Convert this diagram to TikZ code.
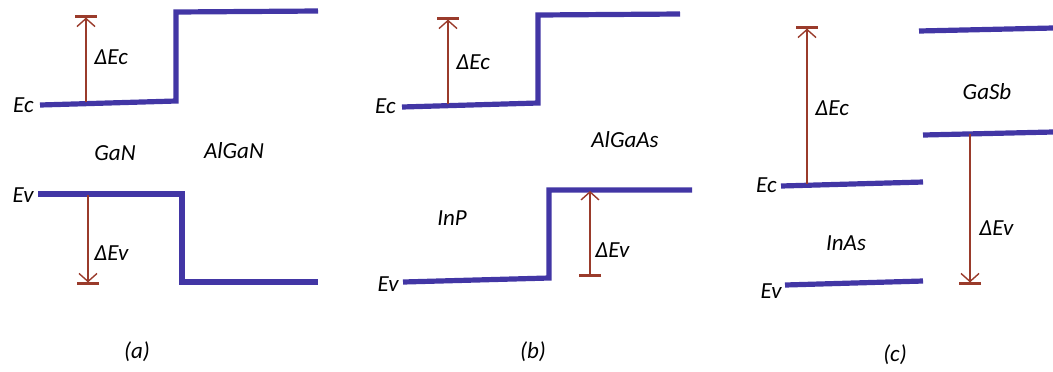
\documentclass[tikz,border=0pt]{standalone}
\usepackage{fontspec}
\setmainfont{Carlito}
\usetikzlibrary{arrows.meta,positioning}
\definecolor{bandblue}{RGB}{66,54,165}
\definecolor{offsetred}{RGB}{154,59,43}

\begin{document}
\begin{tikzpicture}[x=0.5pt,y=-0.5pt,every node/.style={font=\fontsize{11.5}{13}\selectfont\itshape,inner sep=1pt},
   band/.style={draw=bandblue,line width=2.6pt,line join=miter},
   offset/.style={draw=offsetred,line width=0.7pt},
   barb/.tip={Straight Barb[length=4pt,width=9pt]},
   endbar/.tip={Bar[width=11pt,line width=1.3pt]}]
\useasboundingbox (0,0) rectangle (1053,371);
% (a) GaN / AlGaN
\draw[band] (40,105) -- (176,101) -- (176,12) -- (318,11);
\draw[band] (38,194) -- (182,194) -- (182,282) -- (318,282);
\coordinate (aEc) at (86,102);
\coordinate (aEcTop) at (86,15);
\coordinate (aEv) at (88,195);
\coordinate (aEvBot) at (88,285);
\draw[offset,-{barb[]endbar[]}] (aEc) -- (aEcTop);
\draw[offset,-{barb[]endbar[]}] (aEv) -- (aEvBot);
\node[anchor=east] (aEcLbl) at (36,105) {Ec};
\node[anchor=east] (aEvLbl) at (36,195) {Ev};
\node[anchor=west] (aDEc) at (92,57) {ΔEc};
\node[anchor=west] (aDEv) at (92,253) {ΔEv};
\node (GaN) at (115,153) {GaN};
\node (AlGaN) at (234,151) {AlGaN};
\node (capA) at (137,352) {(a)};
% (b) InP / AlGaAs
\draw[band] (402,107) -- (538,103) -- (538,15) -- (680,14);
\draw[band] (403,282) -- (549,278) -- (549,190) -- (692,190);
\coordinate (bEc) at (448,104);
\coordinate (bEcTop) at (448,17);
\coordinate (bEvBot) at (590,277);
\coordinate (bEv) at (590,191);
\draw[offset,-{barb[]endbar[]}] (bEc) -- (bEcTop);
\draw[offset,{endbar[]}-{barb[]}] (bEvBot) -- (bEv);
\node[anchor=east] (bEcLbl) at (398,106) {Ec};
\node[anchor=east] (bEvLbl) at (401,284) {Ev};
\node[anchor=west] (bDEc) at (454,62) {ΔEc};
\node[anchor=west] (bDEv) at (593,250) {ΔEv};
\node (AlGaAs) at (625,140) {AlGaAs};
\node (InP) at (452,218) {InP};
\node (capB) at (533,352) {(b)};
% (c) InAs / GaSb
\draw[band] (919,31) -- (1053,28);
\draw[band] (923,135) -- (1053,132);
\draw[band] (781,186) -- (923,182);
\draw[band] (785,285) -- (923,281);
\coordinate (cEc) at (807,184);
\coordinate (cEcTop) at (807,26);
\coordinate (cEv) at (970,134);
\coordinate (cEvBot) at (970,285);
\draw[offset,-{barb[]endbar[]}] (cEc) -- (cEcTop);
\draw[offset,-{barb[]endbar[]}] (cEv) -- (cEvBot);
\node[anchor=east] (cEcLbl) at (779,185) {Ec};
\node[anchor=east] (cEvLbl) at (784,291) {Ev};
\node[anchor=west] (cDEc) at (813,108) {ΔEc};
\node[anchor=west] (cDEv) at (977,228) {ΔEv};
\node (GaSb) at (987,92) {GaSb};
\node (InAs) at (846,243) {InAs};
\node (capC) at (895,355) {(c)};
\end{tikzpicture}
\end{document}
